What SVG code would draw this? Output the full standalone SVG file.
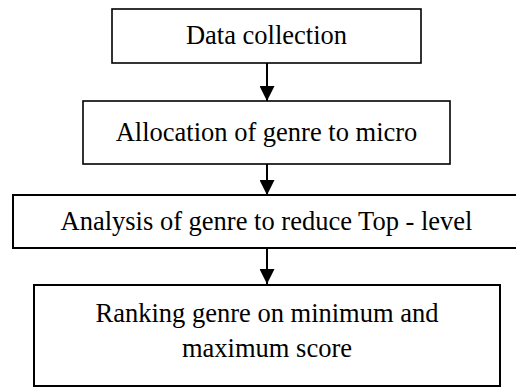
<svg xmlns="http://www.w3.org/2000/svg" width="516" height="387" viewBox="0 0 516 387">
<defs>
<style>
.box{fill:#fff;stroke:#000;stroke-width:1.6}
.box2{fill:#fff;stroke:#000;stroke-width:2}
.lbl{font-family:"Liberation Serif","Times New Roman",serif;font-size:26.5px;fill:#000;text-anchor:middle}
.conn{stroke:#000;stroke-width:2;fill:none}
</style>
<marker id="arr" viewBox="0 0 15 15" markerWidth="15" markerHeight="15" markerUnits="userSpaceOnUse" refX="15" refY="7.5" orient="auto">
<path d="M0,0 L15,7.5 L0,15 Z" fill="#000"/>
</marker>
</defs>
<rect width="516" height="387" fill="#fff"/>
<g id="connectors">
<line class="conn" x1="267" y1="63" x2="267" y2="101" marker-end="url(#arr)"/>
<line class="conn" x1="267" y1="164" x2="267" y2="195" marker-end="url(#arr)"/>
<line class="conn" x1="267" y1="248" x2="267" y2="284" marker-end="url(#arr)"/>
</g>
<g id="node1">
<rect class="box" x="112" y="9" width="309" height="54"/>
<text class="lbl" x="266.5" y="44">Data collection</text>
</g>
<g id="node2">
<rect class="box" x="83" y="101" width="367" height="63"/>
<text class="lbl" x="266.5" y="141">Allocation of genre to micro</text>
</g>
<g id="node3">
<rect class="box2" x="13" y="195" width="520" height="53"/>
<text class="lbl" x="266.5" y="230">Analysis of genre to reduce Top - level</text>
</g>
<g id="node4">
<rect class="box2" x="34" y="285" width="466" height="101"/>
<text class="lbl" x="267" y="322">Ranking genre on minimum and</text>
<text class="lbl" x="267" y="357">maximum score</text>
</g>
</svg>
